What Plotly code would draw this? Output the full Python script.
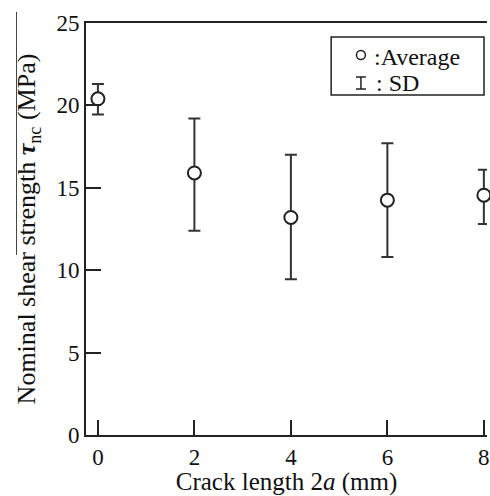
import plotly.graph_objects as go

crack_length = [0, 2, 4, 6, 8]
avg_strength = [20.4, 15.9, 13.2, 14.25, 14.55]
sd_plus = [0.9, 3.3, 3.8, 3.45, 1.55]
sd_minus = [0.95, 3.5, 3.75, 3.45, 1.75]
x_ticks = [0, 2, 4, 6, 8]
y_ticks = [0, 5, 10, 15, 20, 25]

FONT = "'Liberation Serif', 'Times New Roman', 'DejaVu Serif', serif"
W, H = 490, 496
L, R, T, B = 86, 0, 23, 61
PW, PH = W - L - R, H - T - B

def px(x):
    return (x - L) / PW

def py(y):
    return (H - B - y) / PH

fig = go.Figure()
fig.add_trace(go.Scatter(
    x=crack_length, y=avg_strength, mode="markers",
    marker=dict(symbol="circle", size=13, color="white",
                line=dict(color="#222", width=2)),
    error_y=dict(type="data", array=sd_plus, arrayminus=sd_minus,
                 symmetric=False, color="#333", thickness=2, width=6),
    showlegend=False, cliponaxis=False,
))

shapes = [
    dict(type="rect", xref="paper", yref="paper",
         x0=px(333), x1=px(487), y0=py(95), y1=py(37),
         line=dict(color="#222", width=1.5), fillcolor="white"),
    dict(type="circle", xref="paper", yref="paper",
         x0=px(358.5), x1=px(367.5), y0=py(59.5), y1=py(50.5),
         line=dict(color="#222", width=1.5)),
    dict(type="line", xref="paper", yref="paper",
         x0=px(363), x1=px(363), y0=py(77), y1=py(89),
         line=dict(color="#222", width=1.5)),
    dict(type="line", xref="paper", yref="paper",
         x0=px(358), x1=px(368), y0=py(77), y1=py(77),
         line=dict(color="#222", width=1.5)),
    dict(type="line", xref="paper", yref="paper",
         x0=px(358), x1=px(368), y0=py(89), y1=py(89),
         line=dict(color="#222", width=1.5)),
    # thin vertical scan line at far left
    dict(type="line", xref="paper", yref="paper",
         x0=px(16), x1=px(16), y0=py(12), y1=py(255),
         line=dict(color="#444", width=1)),
]

annotations = [
    dict(text=":Average", xref="paper", yref="paper", x=px(374), y=py(57),
         xanchor="left", yanchor="middle", showarrow=False,
         font=dict(family=FONT, size=24, color="#111")),
    dict(text=": SD", xref="paper", yref="paper", x=px(376), y=py(83),
         xanchor="left", yanchor="middle", showarrow=False,
         font=dict(family=FONT, size=24, color="#111")),
]

fig.update_layout(
    width=W, height=H,
    margin=dict(l=L, r=R, t=T, b=B),
    plot_bgcolor="white", paper_bgcolor="white",
    font=dict(family=FONT, size=22, color="#111"),
    shapes=shapes, annotations=annotations,
    xaxis=dict(
        range=[-0.247, 8.065], tickvals=x_ticks, ticks="inside", ticklen=15,
        tickwidth=2, tickcolor="#222", showline=True, linecolor="#222",
        linewidth=2, mirror=True, showgrid=False, zeroline=False,
        ticklabeloverflow="allow",
        tickfont=dict(family=FONT, size=23),
        title=dict(text="Crack length 2<i>a</i> (mm)", standoff=7,
                   font=dict(family=FONT, size=25)),
    ),
    yaxis=dict(
        range=[0, 25], tickvals=y_ticks, ticks="inside", ticklen=15,
        tickwidth=2, tickcolor="#222", showline=True, linecolor="#222",
        linewidth=2, showgrid=False, zeroline=False,
        tickfont=dict(family=FONT, size=23),
        title=dict(text="Nominal shear strength <b><i>τ</i></b><sub>nc</sub> (MPa)",
                   standoff=13, font=dict(family=FONT, size=26)),
    ),
)

fig.write_html("out.html")
